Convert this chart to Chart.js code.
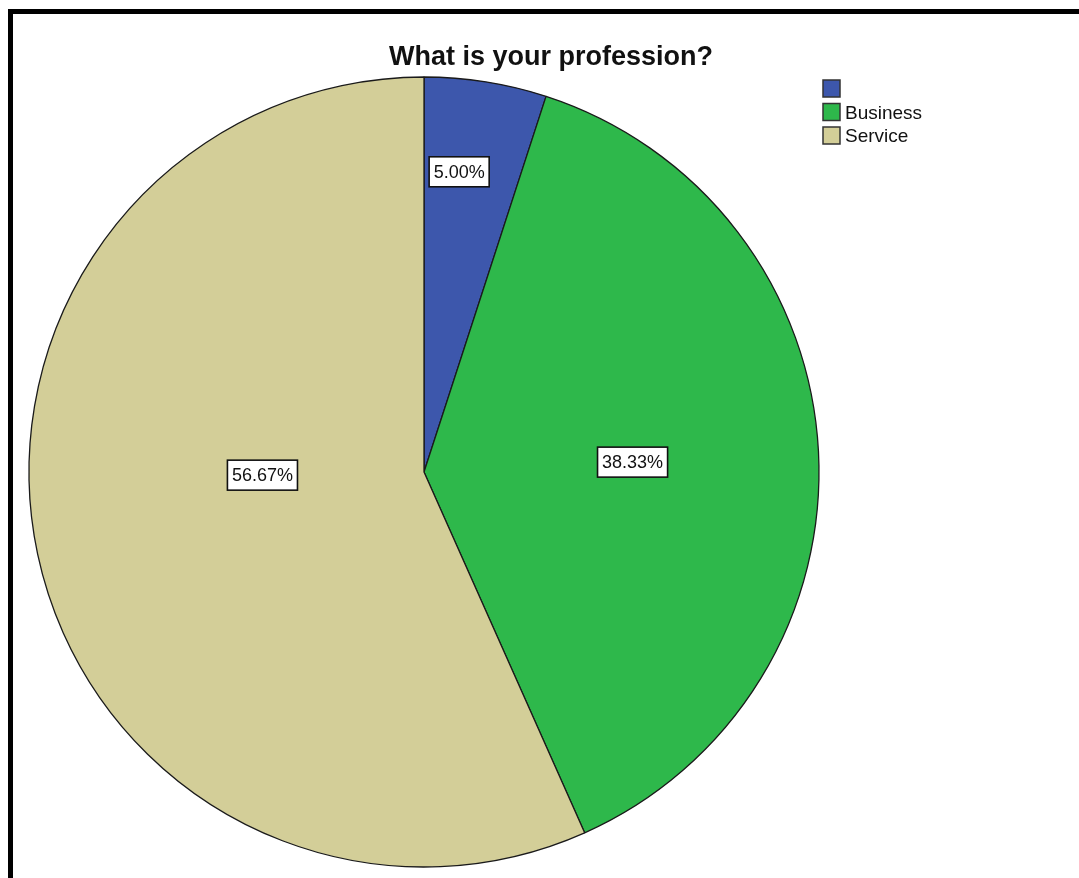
<!DOCTYPE html>
<html>
<head>
<meta charset="utf-8">
<script src="https://cdn.jsdelivr.net/npm/chart.js@4.4.0/dist/chart.umd.min.js"></script>
<style>
  body { margin: 0; background: #fff; overflow: hidden; }
  #wrap { position: relative; width: 1079px; height: 878px; }
  #frame { position: absolute; left: 8px; top: 9px; width: 1100px; height: 900px; border: 5px solid #000; box-sizing: border-box; }
  #box { position: absolute; left: 0; top: 0; width: 1079px; height: 878px; }
</style>
</head>
<body>
<div id="wrap">
  <div id="frame"></div>
  <div id="box"><canvas id="myChart"></canvas></div>
</div>
<script>
const title = 'What is your profession?';
const categories = ['', 'Business', 'Service'];
const counts = [3, 23, 34];
const colors = ['#3d57ac', '#2eb84b', '#d3ce98'];

// where each percent box sits, in units of radius from the pie centre
const labelAnchors = [[0.089, -0.76], [0.528, -0.025], [-0.409, 0.008]];

const total = counts.reduce((a, b) => a + b, 0);
const percents = counts.map(c => (c / total * 100).toFixed(2) + '%');

const ctx = document.getElementById('myChart');

const spssLook = {
  id: 'spssLook',
  afterDatasetsDraw(chart) {
    const c = chart.ctx;
    const arcs = chart.getDatasetMeta(0).data;
    const cx = arcs[0].x, cy = arcs[0].y, r = arcs[0].outerRadius;
    c.save();
    c.font = '18px "Liberation Sans", Arial, sans-serif';
    c.textBaseline = 'middle';
    c.textAlign = 'center';
    percents.forEach((txt, i) => {
      const x = cx + labelAnchors[i][0] * r;
      const y = cy + labelAnchors[i][1] * r;
      const w = c.measureText(txt).width + 9;
      const h = 30;
      c.fillStyle = '#fff';
      c.fillRect(x - w / 2, y - h / 2, w, h);
      c.strokeStyle = '#111';
      c.lineWidth = 1.6;
      c.strokeRect(x - w / 2, y - h / 2, w, h);
      c.fillStyle = '#111';
      c.fillText(txt, x, y + 1);
    });
    c.restore();
  },
  afterDraw(chart) {
    const c = chart.ctx;
    c.save();
    // title
    c.font = 'bold 27px "Liberation Sans", Arial, sans-serif';
    c.fillStyle = '#111';
    c.textAlign = 'center';
    c.textBaseline = 'alphabetic';
    c.fillText(title, 551, 65);
    // legend
    c.font = '19px "Liberation Sans", Arial, sans-serif';
    c.textAlign = 'left';
    categories.forEach((name, i) => {
      const y = 80 + i * 23.5;
      c.fillStyle = colors[i];
      c.fillRect(823, y, 17, 17);
      c.strokeStyle = '#333';
      c.lineWidth = 1.5;
      c.strokeRect(823, y, 17, 17);
      c.fillStyle = '#111';
      c.fillText(name, 845, y + 15);
    });
    c.restore();
  }
};

const myChart = new Chart(ctx, {
  type: 'pie',
  data: {
    labels: categories,
    datasets: [{
      data: counts,
      backgroundColor: colors,
      borderColor: '#1a1a1a',
      borderWidth: 1.3
    }]
  },
  options: {
    responsive: true,
    maintainAspectRatio: false,
    animation: false,
    radius: 395,
    layout: { padding: { left: 29, right: 260, top: 77, bottom: 11 } },
    plugins: {
      legend: { display: false },
      title: { display: false },
      tooltip: { enabled: false }
    }
  },
  plugins: [spssLook]
});
</script>
</body>
</html>
